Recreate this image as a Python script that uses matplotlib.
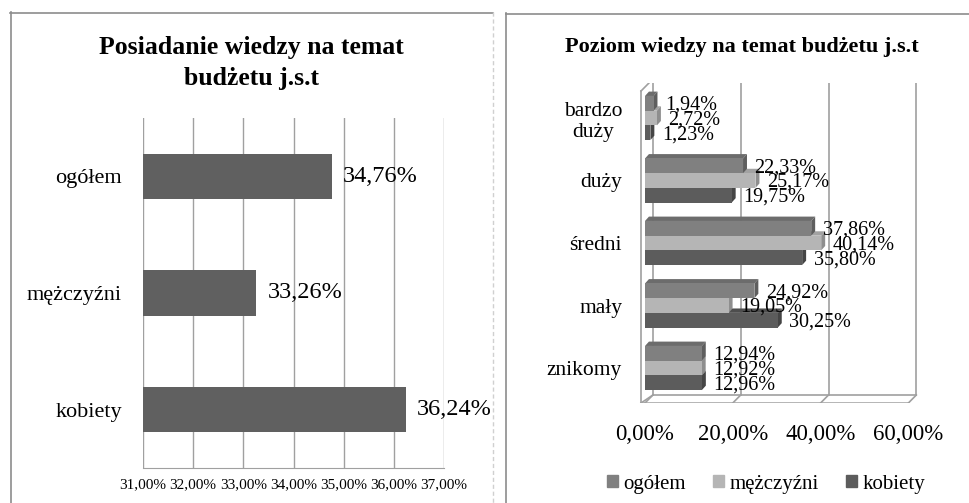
import matplotlib.pyplot as plt
from matplotlib.lines import Line2D
from matplotlib.patches import Patch

# left chart
groups = ['ogółem', 'mężczyźni', 'kobiety']
total_share = [34.76, 33.26, 36.24]
left_ticks = [31, 32, 33, 34, 35, 36, 37]

# right chart
levels = ['bardzo\nduży', 'duży', 'średni', 'mały', 'znikomy']
ogolem = [1.94, 22.33, 37.86, 24.92, 12.94]
mezczyzni = [2.72, 25.17, 40.14, 19.05, 12.92]
kobiety = [1.23, 19.75, 35.80, 30.25, 12.96]
right_ticks = [0, 20, 40, 60]


def pl(v):
    return f"{v:.2f}".replace('.', ',') + '%'


plt.rcParams['font.family'] = ['Liberation Serif', 'DejaVu Serif']
W, H = 969, 503
fig = plt.figure(figsize=(W / 100, H / 100), dpi=100)

# panel frames
def fline(x0, y0, x1, y1, **kw):
    fig.add_artist(Line2D([x0 / W, x1 / W], [1 - y0 / H, 1 - y1 / H],
                          transform=fig.transFigure, **kw))

fline(10.5, 12, 10.5, 503, color='#8c8c8c', lw=1.2)
fline(10, 12.5, 493, 12.5, color='#8c8c8c', lw=1.2)
fline(493, 12, 493, 503, color='#d0d0d0', lw=1, ls=(0, (3, 2)))
fline(506.5, 13, 506.5, 503, color='#8c8c8c', lw=1.2)
fline(506, 13.5, 969, 13.5, color='#8c8c8c', lw=1.2)

# ---- left chart ----
ax1 = fig.add_axes([143 / W, 35 / H, 301 / W, 350 / H])
pos = range(len(groups))
ax1.barh(pos, total_share, height=0.39, color='#606060', zorder=3)
for i, v in enumerate(total_share):
    ax1.text(v + 0.22, i, pl(v), va='center', ha='left', fontsize=17.5, zorder=4)
ax1.set_xlim(31, 37)
ax1.set_ylim(2.5, -0.5)
ax1.set_xticks(left_ticks)
ax1.set_xticklabels([pl(t) for t in left_ticks], fontsize=11)
ax1.set_yticks(list(pos))
ax1.set_yticklabels(groups, fontsize=16)
ax1.grid(axis='x', color='#a0a0a0', lw=1, zorder=0)
for s in ['top', 'right', 'left']:
    ax1.spines[s].set_visible(False)
ax1.spines['bottom'].set_color('#a0a0a0')
ax1.tick_params(length=0)
ax1.tick_params(axis='y', pad=15)
ax1.tick_params(axis='x', pad=7)

fig.text(251 / W, 1 - 63 / H, 'Posiadanie wiedzy na temat\nbudżetu j.s.t',
         ha='center', va='center', fontsize=18.5, fontweight='bold', linespacing=1.4)

# ---- right chart (pseudo 3D) ----
ax2 = fig.add_axes([636 / W, 100 / H, 289 / W, 320 / H])
ax2.set_xlim(-2.05, 63.78)
ax2.set_ylim(4.56, -0.56)
ytop, yfront = -0.56, 4.56
dx, dy = 1.8, 0.128          # wall depth
ybk = yfront - dy
wall = dict(color='#a0a0a0', lw=1.2, zorder=1)
for t in right_ticks:
    ax2.plot([t + dx, t + dx], [ytop, ybk], **wall)
    ax2.plot([t, t + dx], [yfront, ybk], **wall)
ax2.plot([-0.9, right_ticks[-1]], [yfront, yfront], color='#a0a0a0', lw=1.8, zorder=1)
ax2.plot([dx, right_ticks[-1] + dx], [ybk, ybk], **wall)
ax2.plot([-0.9, -0.9], [yfront, ytop + dy], **wall)
ax2.plot([-0.9, dx - 0.9], [ytop + dy, ytop], **wall)
ax2.plot([-0.9, dx], [yfront, ybk], **wall)

series = [('ogółem', ogolem, '#808080', '#6c6c6c', '#5e5e5e'),
          ('mężczyźni', mezczyzni, '#b5b5b5', '#a2a2a2', '#8e8e8e'),
          ('kobiety', kobiety, '#5c5c5c', '#4e4e4e', '#454545')]
h = 0.235
bx, by = 0.9, 0.07           # bar depth
for k in [2, 1, 0]:
    name, vals, cf, ct, cs = series[k]
    z = 3 + (2 - k) * 2
    for i, v in enumerate(vals):
        yc = i + (k - 1) * h
        y0, y1 = yc - h / 2, yc + h / 2
        ax2.fill([0, bx, v + bx, v], [y0, y0 - by, y0 - by, y0], color=ct, lw=0, zorder=z)
        ax2.fill([v, v + bx, v + bx, v], [y0, y0 - by, y1 - by, y1], color=cs, lw=0, zorder=z)
        ax2.barh(yc, v, height=h, color=cf, zorder=z + 1)
        ax2.text(v + 2.6, yc + 0.03, pl(v), va='center', ha='left', fontsize=14.5, zorder=12)

ax2.set_xticks(right_ticks)
ax2.set_xticklabels([pl(t) for t in right_ticks], fontsize=16.5)
ax2.set_yticks(range(len(levels)))
ax2.set_yticklabels(levels, fontsize=15.5, multialignment='center')
for s in ax2.spines.values():
    s.set_visible(False)
ax2.tick_params(length=0)
ax2.tick_params(axis='x', pad=15)
ax2.tick_params(axis='y', pad=10)

fig.text(742 / W, 1 - 47 / H, 'Poziom wiedzy na temat budżetu j.s.t',
         ha='center', va='center', fontsize=16, fontweight='bold')

handles = [Patch(color=c) for _, _, c, _, _ in series]
fig.legend(handles, [s[0] for s in series], loc='center',
           bbox_to_anchor=(766 / W, 1 - 484 / H), ncol=3, frameon=False,
           fontsize=15, handlelength=0.55, handleheight=0.55,
           handletextpad=0.25, columnspacing=1.3)

fig.savefig('out.png', dpi=100)
